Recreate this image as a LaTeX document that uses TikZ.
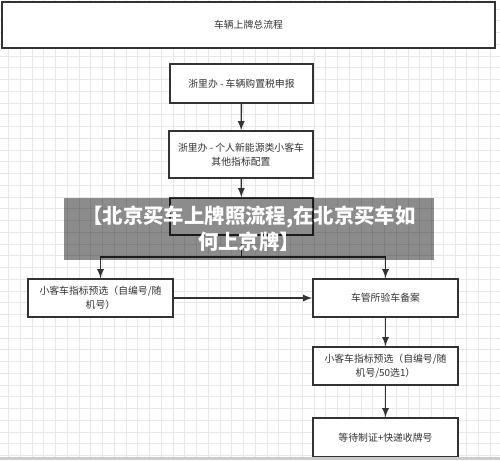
\documentclass[tikz,border=0pt]{standalone}
\usepackage{fontspec}
\setmainfont{Noto Sans CJK SC}
\usetikzlibrary{positioning}

\begin{document}
\begin{tikzpicture}[x=0.02cm,y=-0.02cm]
      \tikzstyle{stepbox}=[draw=black!80,line width=0.8pt,fill=white,align=center,font=\fontsize{5.6}{8}\selectfont,text=black!80,inner sep=1pt]
      \tikzstyle{link}=[draw=black!80,line width=0.8pt]
      \tikzstyle{gridline}=[draw=black!9,line width=0.3pt]
      \useasboundingbox (0,0) rectangle (500,460);
      \fill[white] (0,0) rectangle (500,460);
      % Background grid
      \foreach \i in {0,...,42} {
        \draw[gridline] ({8.3+\i*11.75},0) -- ({8.3+\i*11.75},460);
      }
      \foreach \j in {0,...,39} {
        \draw[gridline] (0,{9+\j*11.75}) -- (500,{9+\j*11.75});
      }
      % Title bar
      \node (title) at (248.5,25) [stepbox,minimum width=9.86cm,minimum height=0.92cm] {车辆上牌总流程};
      % Steps in the middle column
      \node (tax) at (241.5,83.5) [stepbox,minimum width=2.86cm,minimum height=0.78cm] {浙里办 - 车辆购置税申报};
      \node (quota) at (241,154.5) [stepbox,minimum width=2.88cm,minimum height=0.94cm] {浙里办 - 个人新能源类小客车\\其他指标配置};
      \node (hidden) at (241.5,216.5) [stepbox,minimum width=2.86cm,minimum height=0.74cm] {};
      % Left and right branches
      \node (presel) at (100.5,298) [stepbox,minimum width=2.9cm,minimum height=0.76cm] {小客车指标预选（自编号/随\\机号）};
      \node (check) at (385.5,298) [stepbox,minimum width=2.9cm,minimum height=0.76cm] {车管所验车备案};
      \node (presel2) at (385.5,366) [stepbox,minimum width=2.9cm,minimum height=0.76cm] {小客车指标预选（自编号/随\\机号/50选1）};
      \node (plate) at (385.5,437.5) [stepbox,minimum width=2.9cm,minimum height=0.78cm] {等待制证+快递收牌号};
      % Junction under the third step
      \coordinate (split) at (241.5,257);
      % Connectors
      \draw[link,-latex] (tax) -- (quota);
      \draw[link,-latex] (quota) -- (hidden);
      \draw[link] (hidden) -- (split);
      \draw[link,-latex] (split) -| (presel);
      \draw[link,-latex] (split) -| (check);
      \draw[link,-latex] (presel) -- (check);
      \draw[link,-latex] (check) -- (presel2);
      \draw[link,-latex] (presel2) -- (plate);
      % Banner over the picture
      \fill[black,opacity=0.45] (64,198) rectangle (434,260);
      \node (banner) at (249,229) [align=center,text=white,font=\fontsize{11.6}{14.8}\selectfont\bfseries] {【北京买车上牌照流程,在北京买车如\\何上京牌】};
      % Bottom edge
      \fill[black!20] (0,457) rectangle (500,460);
    \end{tikzpicture}
\end{document}
